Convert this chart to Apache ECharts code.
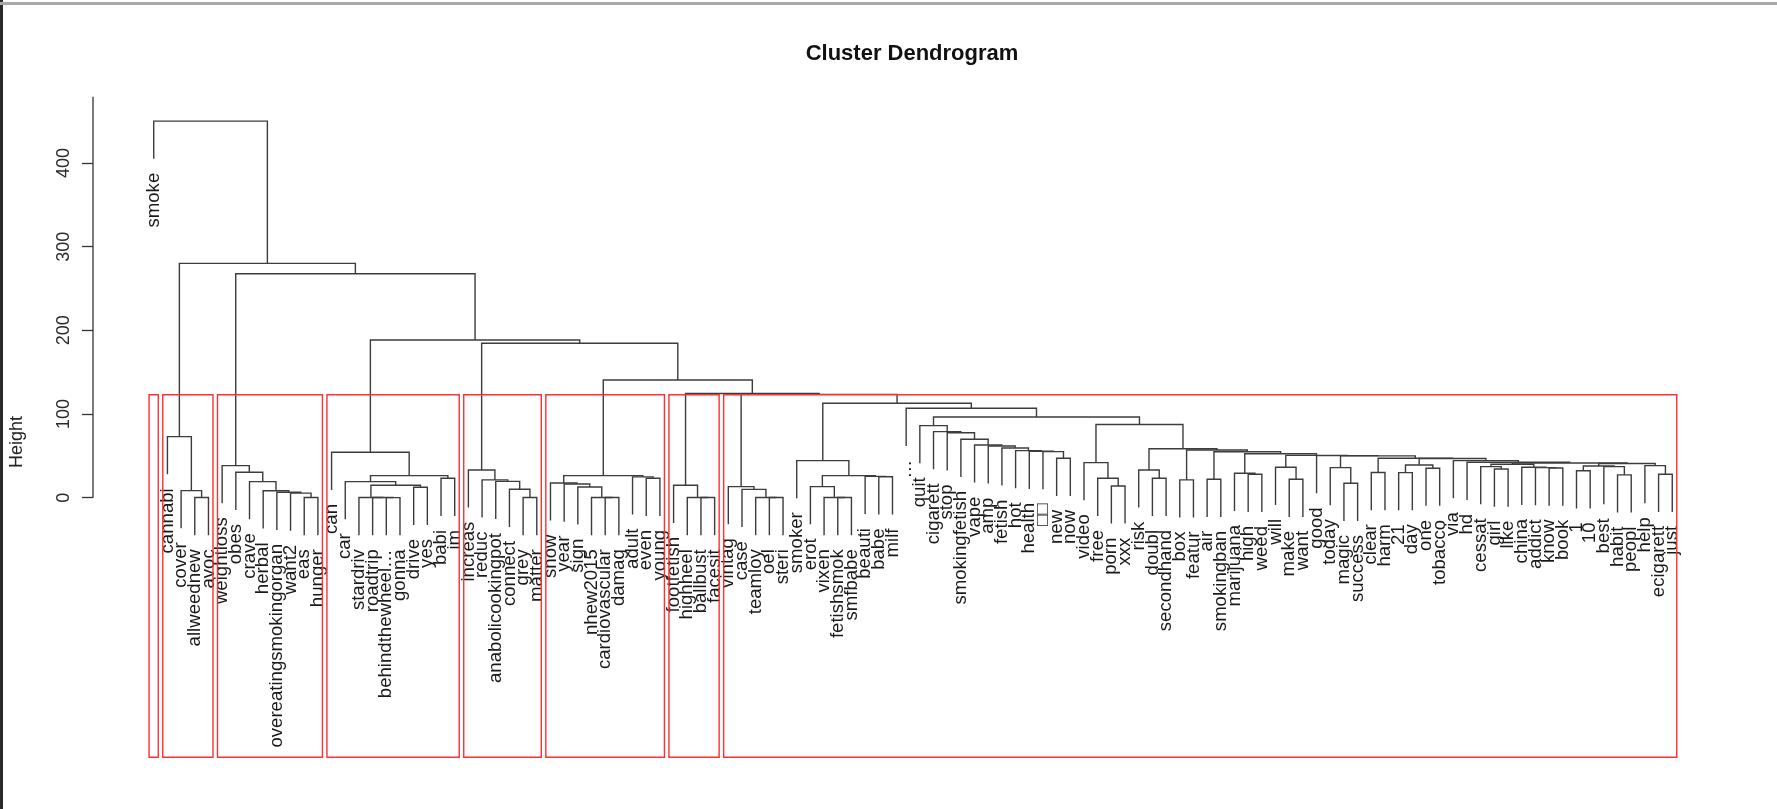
<!DOCTYPE html>
<html>
<head>
<meta charset="utf-8">
<style>
html,body{margin:0;padding:0;background:#fff;}
#chart{width:1777px;height:809px;}
</style>
<script src="https://cdn.jsdelivr.net/npm/echarts@6/dist/echarts.min.js"></script>
</head>
<body>
<div id="chart"></div>
<script>
// ---------------- data ----------------
// leaves in dendrogram order
const leafLabels = [
  'smoke','cannabi','cover','allweednew','avoc',
  'weightloss','obes','crave','herbal','overeatingsmokingorgan','want2','eas','hunger',
  'can','car','stardriv','roadtrip','behindthewheel\u2026','gonna','drive','yes','babi','im',
  'increas','reduc','anabolicookingpot','connect','grey','matter',
  'snow','year','sign','nhew2015','cardiovascular','damag','adult','even','young',
  'footfetish','highheel','ballbust','facesit',
  'vintag','case','teamloy','oel','steri',
  'smoker','erot','vixen','fetishsmok','smfbabe','beauti','babe','milf',
  '\u2026','quit','cigarett','stop','smokingfetish','vape','amp','fetish','hot','health','\u25A1\u25A1','new','now',
  'video','free','porn','xxx',
  'risk','doubl','secondhand','box','featur','air','smokingban','marijuana','high','weed',
  'will','make','want','good','today','magic','success','clear','harm','21','day','one','tobacco',
  'via','hd','cessat','girl','like','china','addict','know','book','1','10','best','habit','peopl','help','ecigarett','just'
];
// height at which leaf i and leaf i+1 are joined (cophenetic height of neighbours)
const mergeHeights = [
  450, 73, 8.5, 0.2, 280, 38.4, 30.4, 19.3, 8.3, 6.5,
  5.5, 0.2, 267.6, 54.3, 19.3, 0.3, 0.2, 0.1, 14.9, 12.5,
  26.4, 23.3, 188.5, 33.2, 21.3, 19.5, 10.1, 0.2, 184.5, 17.7,
  16.4, 12.9, 0.3, 0.2, 26.4, 24.9, 23.3, 140.7, 14.9, 0.3,
  0.2, 124.5, 13.3, 10, 0.3, 0.2, 123.5, 44.4, 13.3, 0.3,
  0.2, 26.4, 25.5, 25, 112.9, 106.9, 86.2, 79, 77.6, 69.9,
  63.1, 61.9, 59.5, 56.3, 55.5, 55.1, 47.2, 96.5, 42, 23.3,
  14.1, 87.5, 33.2, 23.3, 58.5, 21.3, 57, 22.1, 55, 29.2,
  28, 52.5, 36.4, 22.1, 50.6, 50.3, 36, 17.3, 50, 30.1,
  47.2, 30, 39.2, 35.3, 46.8, 44.4, 42.4, 37.2, 34.3, 40,
  36.4, 36, 35.5, 41.5, 32.2, 38, 37.2, 27.3, 41, 38.4,
  28.1
];
// clusters boxed by rect.hclust (k = 8), first/last leaf position (1-based)
const clusterFirst = [1, 2, 6, 14, 24, 30, 39, 43];
const clusterLast  = [1, 5, 13, 23, 29, 38, 42, 112];
const cutHeight = 123;
const heightTicks = [0, 100, 200, 300, 400];

// ---------------- tree build ----------------
const maxH = Math.max.apply(null, mergeHeights);
const hang = 0.1 * maxH;
function build(lo, hi) {
  if (lo === hi) return { leaf: true, x: lo + 1, idx: lo };
  let k = lo;
  for (let i = lo; i < hi; i++) if (mergeHeights[i] > mergeHeights[k]) k = i;
  const L = build(lo, k), R = build(k + 1, hi);
  return { leaf: false, x: (L.x + R.x) / 2, h: mergeHeights[k], L: L, R: R };
}
const root = build(0, leafLabels.length - 1);
const linkData = [], leafData = [];
(function walk(n) {
  if (n.leaf) return;
  const bottom = c => c.leaf ? n.h - hang : c.h;
  linkData.push([n.L.x, bottom(n.L), n.R.x, bottom(n.R), n.h]);
  if (n.L.leaf) leafData.push([n.L.x, n.h - hang, n.L.idx]);
  if (n.R.leaf) leafData.push([n.R.x, n.h - hang, n.R.idx]);
  walk(n.L); walk(n.R);
})(root);
const boxData = clusterFirst.map((f, i) => [f - 0.34, clusterLast[i] + 0.33, cutHeight]);

// ---------------- chart ----------------
const FONT = '"Liberation Sans", Arial, Helvetica, sans-serif';
const yMin = -310, yMax = 480, axisTop = 479;
const n = leafLabels.length;
const xPad = 0.04 * (n - 1);
const chart = echarts.init(document.getElementById('chart'), null, { renderer: 'canvas' });
chart.setOption({
  animation: false,
  backgroundColor: '#fff',
  title: {
    text: 'Cluster Dendrogram', left: 907, top: 38, textAlign: 'center',
    textStyle: { fontSize: 22, fontWeight: 'bold', fontFamily: FONT, color: '#111' }
  },
  graphic: [
    { type: 'rect', left: 0, top: 0, shape: { width: 3, height: 809 }, style: { fill: '#2a2a2a' } },
    { type: 'rect', left: 0, top: 2, shape: { width: 1777, height: 3 }, style: { fill: '#a8a8a8' } }
  ],
  grid: { left: 93, right: 44, top: 96, bottom: 51.8, containLabel: false, outerBoundsMode: 'none' },
  xAxis: { type: 'value', min: 1 - xPad, max: n + xPad, show: false },
  yAxis: {
    type: 'value', min: yMin, max: yMax, position: 'left',
    axisLine: { show: false, onZero: false },
    splitLine: { show: false },
    axisTick: { show: true, customValues: heightTicks, length: 11, lineStyle: { color: '#333', width: 1.3 } },
    axisLabel: { customValues: heightTicks, rotate: 90, margin: 20, fontSize: 18, fontFamily: FONT, color: '#2a2a2a' },
    name: 'Height', nameLocation: 'middle', nameRotate: 90, nameGap: 67,
    nameTextStyle: { fontSize: 18, fontFamily: FONT, color: '#222', padding: [0, 31, 0, 0] }
  },
  series: [
    {
      type: 'custom', name: 'axisline', silent: true, clip: false,
      data: [[0, axisTop]],
      renderItem: function (params, api) {
        const x = params.coordSys.x;
        const y0 = api.coord([0, 0])[1], y1 = api.coord([0, api.value(1)])[1];
        return { type: 'line', shape: { x1: x, y1: y0, x2: x, y2: y1 }, style: { stroke: '#333', lineWidth: 1.3 } };
      }
    },
    {
      type: 'custom', name: 'boxes', silent: true, clip: false,
      data: boxData,
      renderItem: function (params, api) {
        const a = api.coord([api.value(0), api.value(2)]);
        const b = api.coord([api.value(1), yMin]);
        return { type: 'rect', shape: { x: a[0], y: a[1], width: b[0] - a[0], height: b[1] - a[1] },
                 style: { fill: null, stroke: '#ff3030', lineWidth: 1.4 }, z2: 5 };
      }
    },
    {
      type: 'custom', name: 'links', silent: true, clip: false,
      data: linkData,
      renderItem: function (params, api) {
        const p1 = api.coord([api.value(0), api.value(1)]);
        const p2 = api.coord([api.value(0), api.value(4)]);
        const p3 = api.coord([api.value(2), api.value(4)]);
        const p4 = api.coord([api.value(2), api.value(3)]);
        return { type: 'polyline', shape: { points: [p1, p2, p3, p4] },
                 style: { fill: null, stroke: '#3c3c3c', lineWidth: 1.4 } };
      }
    },
    {
      type: 'custom', name: 'labels', silent: true, clip: false,
      data: leafData,
      renderItem: function (params, api) {
        const p = api.coord([api.value(0), api.value(1)]);
        return { type: 'text', x: p[0], y: p[1] + 14, rotation: Math.PI / 2,
                 style: { text: leafLabels[api.value(2)], font: '18.6px ' + FONT, fill: '#1a1a1a',
                          align: 'right', verticalAlign: 'middle' } };
      }
    }
  ]
});
</script>
</body>
</html>
